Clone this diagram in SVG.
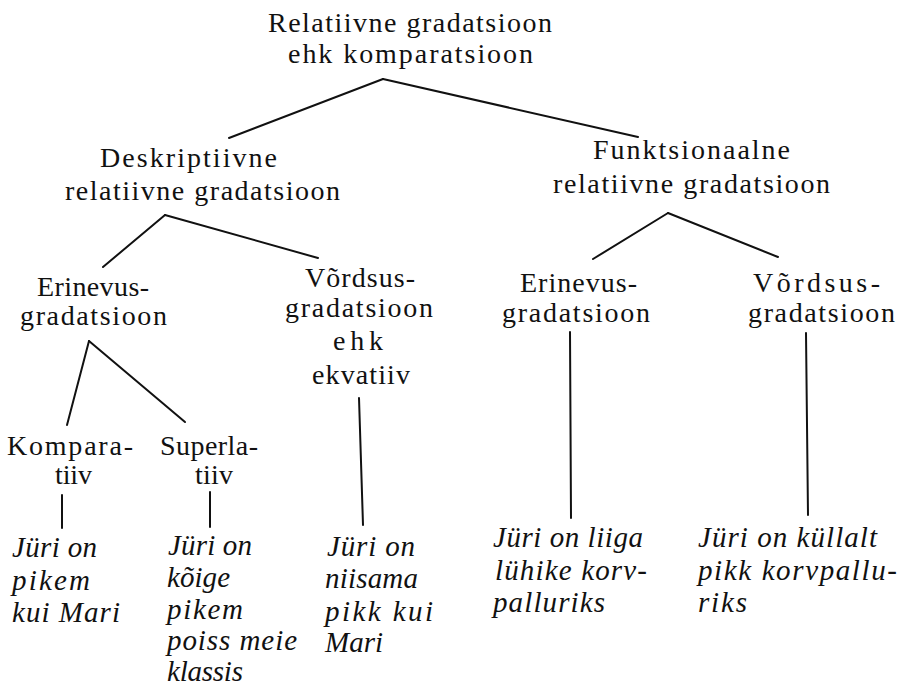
<svg xmlns="http://www.w3.org/2000/svg" width="898" height="689" viewBox="0 0 898 689">
<style>
text{font-family:"Liberation Serif","Times New Roman",serif;font-size:28px;fill:#111;}
.ex{font-style:italic;font-size:29px;}
#connectors line{stroke:#111;stroke-width:2;stroke-linecap:round;}
</style>
<rect width="898" height="689" fill="#fff"/>
<g id="connectors">
<line x1="383" y1="79" x2="229" y2="138"/>
<line x1="383" y1="79" x2="638" y2="137"/>
<line x1="165" y1="215" x2="103" y2="267"/>
<line x1="165" y1="215" x2="318" y2="258"/>
<line x1="668" y1="213" x2="593" y2="259"/>
<line x1="668" y1="213" x2="778" y2="257"/>
<line x1="89" y1="341" x2="67" y2="425"/>
<line x1="89" y1="341" x2="185" y2="422"/>
<line x1="62" y1="495" x2="62" y2="528"/>
<line x1="210" y1="492" x2="210" y2="527"/>
<line x1="359" y1="398" x2="363" y2="525"/>
<line x1="570" y1="332" x2="571" y2="518"/>
<line x1="806" y1="333" x2="808" y2="515"/>
</g>
<g id="root">
<text x="268" y="32" textLength="284">Relatiivne gradatsioon</text>
<text x="288" y="63" textLength="245">ehk komparatsioon</text>
</g>
<g id="deskriptiivne">
<text x="100" y="167" textLength="177">Deskriptiivne</text>
<text x="65" y="200" textLength="275">relatiivne gradatsioon</text>
</g>
<g id="funktsionaalne">
<text x="593" y="159" textLength="197">Funktsionaalne</text>
<text x="553" y="193" textLength="277">relatiivne gradatsioon</text>
</g>
<g id="erinevus-d">
<text x="37" y="296" textLength="112">Erinevus-</text>
<text x="20" y="325" textLength="147">gradatsioon</text>
</g>
<g id="vordsus-d">
<text x="305" y="287" textLength="110">Võrdsus-</text>
<text x="285" y="317" textLength="148">gradatsioon</text>
<text x="333" y="350" textLength="50">ehk</text>
<text x="312" y="384" textLength="98">ekvatiiv</text>
</g>
<g id="erinevus-f">
<text x="520" y="292" textLength="117">Erinevus-</text>
<text x="502" y="322" textLength="148">gradatsioon</text>
</g>
<g id="vordsus-f">
<text x="753" y="292" textLength="127">Võrdsus-</text>
<text x="748" y="322" textLength="147">gradatsioon</text>
</g>
<g id="komparatiiv">
<text x="7" y="455" textLength="126">Kompara-</text>
<text x="55" y="484" textLength="37">tiiv</text>
</g>
<g id="superlatiiv">
<text x="160" y="455" textLength="98">Superla-</text>
<text x="195" y="484" textLength="38">tiiv</text>
</g>
<g id="ex-komparatiiv">
<text class="ex" x="12" y="557" textLength="85">Jüri on</text>
<text class="ex" x="12" y="590" textLength="78">pikem</text>
<text class="ex" x="12" y="622" textLength="108">kui Mari</text>
</g>
<g id="ex-superlatiiv">
<text class="ex" x="168" y="555" textLength="84">Jüri on</text>
<text class="ex" x="167" y="587" textLength="63">kõige</text>
<text class="ex" x="167" y="619" textLength="76">pikem</text>
<text class="ex" x="167" y="650" textLength="130">poiss meie</text>
<text class="ex" x="167" y="681" textLength="76">klassis</text>
</g>
<g id="ex-ekvatiiv">
<text class="ex" x="327" y="556" textLength="88">Jüri on</text>
<text class="ex" x="325" y="588" textLength="93">niisama</text>
<text class="ex" x="325" y="621" textLength="108">pikk kui</text>
<text class="ex" x="325" y="652" textLength="58">Mari</text>
</g>
<g id="ex-erinevus-f">
<text class="ex" x="493" y="547" textLength="150">Jüri on liiga</text>
<text class="ex" x="495" y="580" textLength="152">lühike korv-</text>
<text class="ex" x="493" y="612" textLength="112">palluriks</text>
</g>
<g id="ex-vordsus-f">
<text class="ex" x="698" y="547" textLength="179">Jüri on küllalt</text>
<text class="ex" x="698" y="580" textLength="199">pikk korvpallu-</text>
<text class="ex" x="698" y="612" textLength="49">riks</text>
</g>
</svg>
